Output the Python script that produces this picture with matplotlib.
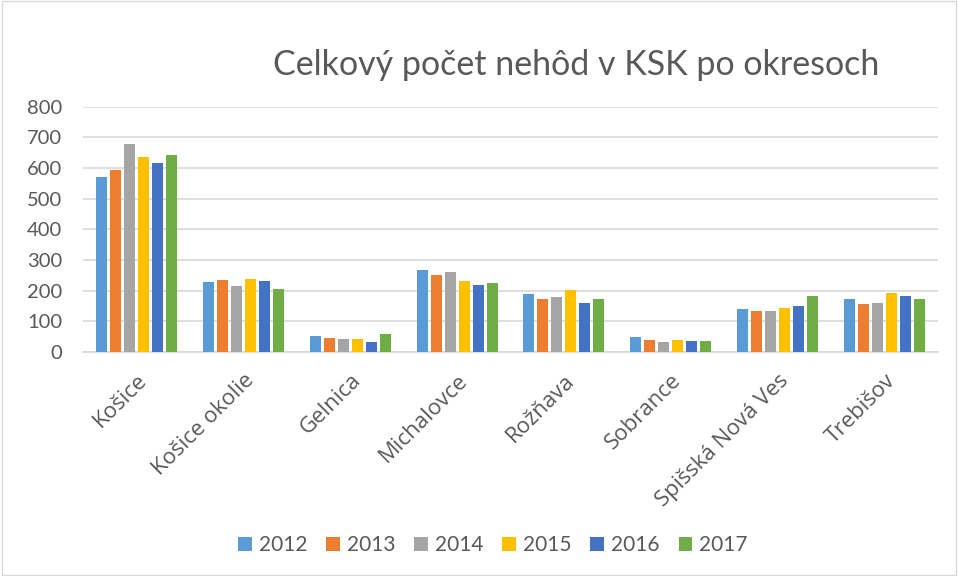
import numpy as np
import matplotlib.pyplot as plt
from matplotlib.patches import Rectangle

okresy = ["Košice", "Košice okolie", "Gelnica", "Michalovce", "Rožňava",
          "Sobrance", "Spišská Nová Ves", "Trebišov"]
roky = ["2012", "2013", "2014", "2015", "2016", "2017"]

v2012 = [570, 227, 52, 267, 188, 50, 139, 172]
v2013 = [594, 236, 46, 251, 174, 40, 135, 155]
v2014 = [677, 215, 42, 260, 180, 32, 135, 160]
v2015 = [635, 238, 44, 232, 201, 40, 142, 192]
v2016 = [616, 230, 34, 217, 160, 36, 150, 183]
v2017 = [642, 204, 59, 224, 172, 36, 184, 172]

farby = ["#5B9BD5", "#ED7D31", "#A5A5A5", "#FFC000", "#4472C4", "#70AD47"]

plt.rcParams['font.family'] = ['Lato', 'DejaVu Sans']

fig = plt.figure(figsize=(9.58, 5.76), dpi=100)
ax = fig.add_axes([83/958, 1 - 352/576, 855/958, (352 - 106.7)/576])

x = np.arange(len(okresy))
krok = 0.131
serie = [v2012, v2013, v2014, v2015, v2016, v2017]
for i, (rok, hodnoty, farba) in enumerate(zip(roky, serie, farby)):
    ax.bar(x + (i - 2.5) * krok, hodnoty, width=0.103, color=farba, label=rok, zorder=3)

ax.set_xlim(-0.5, len(okresy) - 0.5)
ax.set_ylim(0, 800)
ax.set_yticks(range(0, 801, 100))
ax.yaxis.grid(True, color="#D9D9D9", linewidth=1.2, zorder=0)
for s in ["top", "right", "left"]:
    ax.spines[s].set_visible(False)
ax.spines["bottom"].set_color("#D9D9D9")
ax.spines["bottom"].set_linewidth(1.2)
ax.tick_params(axis="both", length=0, colors="#595959")
ax.tick_params(axis="y", pad=15, labelsize=14.5)
ax.tick_params(axis="x", pad=13)
ax.set_xticks(x)
ax.set_xticklabels(okresy, rotation=45, ha="right", rotation_mode="anchor",
                   family=["Open Sans", "DejaVu Sans"], fontsize=16)

fig.text(576/958, 1 - 65/576, "Celkový počet nehôd v KSK po okresoch",
         ha="center", va="center", fontsize=24.5, color="#595959")

fig.legend(loc="center", bbox_to_anchor=(493/958, 1 - 545/576), ncol=6, frameon=False,
           fontsize=15, labelcolor="#595959", handlelength=0.65, handleheight=0.65,
           handletextpad=0.35, columnspacing=0.9)

fig.patches.append(Rectangle((0.002, 0.002), 0.996, 0.996, transform=fig.transFigure,
                             fill=False, edgecolor="#D9D9D9", linewidth=1))

plt.savefig("out.png", dpi=100)
